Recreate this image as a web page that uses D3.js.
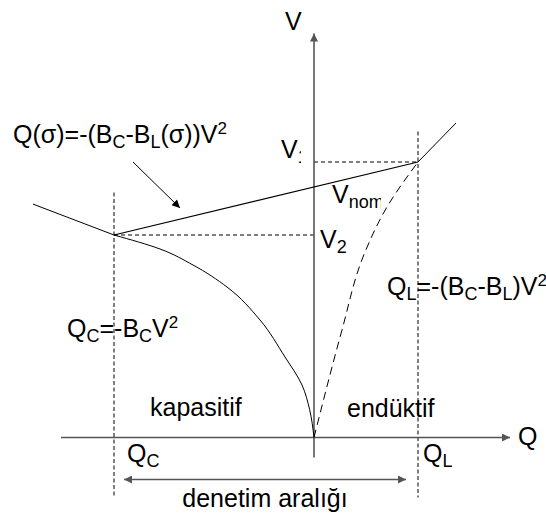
<!DOCTYPE html>
<html>
<head>
<meta charset="utf-8">
<script src="https://cdn.jsdelivr.net/npm/d3@7"></script>
<style>
  html, body { margin: 0; padding: 0; background: #fff; }
  svg { display: block; }
  text { font-family: "Liberation Sans", Arial, sans-serif; fill: #000; }
</style>
</head>
<body>
<svg id="chart" width="546" height="518"></svg>
<script>
// Operating characteristic of a TCR / FC static VAR compensator (Q in p.u. of Q_C, V in p.u.)

// Left branch before the capacitive limit
const leftQ = [-1.405, -1.0];
const leftV = [1.167, 1.0125];

// Capacitive limit curve Q_C = -B_C V^2 (sampled points, Q, V)
const capacitiveQ = [-1.0, -0.77, -0.605, -0.435, -0.27, -0.145, -0.06, -0.022, 0];
const capacitiveV = [1.0125, 0.9425, 0.8625, 0.7525, 0.5875, 0.4025, 0.2625, 0.14, 0];

// Inductive limit curve Q_L = -(B_C - B_L) V^2 (dashed)
const inductiveQ = [0, 0.14, 0.245, 0.365, 0.52];
const inductiveV = [0, 0.5375, 0.9025, 1.1525, 1.3775];

// Control characteristic Q(σ) between the two limits, then the inductive branch
const controlQ = [-1.0, 0.52];
const controlV = [1.0125, 1.3775];
const upperQ = [0.52, 0.71];
const upperV = [1.3775, 1.5725];

// Limits and reference voltages
const limitQ = { QC: -1.0, QL: 0.52 };
const limitV = { V2: 1.0125, V1: 1.3775 };

const svg = d3.select("#chart");
const x = d3.scaleLinear().domain([-1.5, 1.0]).range([14, 514]);
const y = d3.scaleLinear().domain([0, 2.1875]).range([437.5, 0]);

const defs = svg.append("defs");
function arrowMarker(id, color, w, h) {
  defs.append("marker")
    .attr("id", id)
    .attr("viewBox", "0 0 10 10")
    .attr("refX", 10).attr("refY", 5)
    .attr("markerWidth", w).attr("markerHeight", h)
    .attr("markerUnits", "userSpaceOnUse")
    .attr("orient", "auto-start-reverse")
    .append("path").attr("d", "M0,0 L10,5 L0,10 Z").attr("fill", color);
}
arrowMarker("axisArrow", "#555", 14, 8);
arrowMarker("blackArrow", "#000", 14, 8);

const line = d3.line().x(d => x(d[0])).y(d => y(d[1]));
const zip = (a, b) => a.map((v, i) => [v, b[i]]);

// Dashed limit verticals
const dashV = "4,2.5";
svg.append("path")
  .attr("d", line([[limitQ.QC, 1.225], [limitQ.QC, -0.3]]))
  .attr("stroke", "#000").attr("stroke-width", 1).attr("stroke-dasharray", dashV).attr("fill", "none");
svg.append("path")
  .attr("d", line([[limitQ.QL, 1.53], [limitQ.QL, -0.3]]))
  .attr("stroke", "#000").attr("stroke-width", 1).attr("stroke-dasharray", dashV).attr("fill", "none");

// Dashed horizontals to the V axis
svg.append("path")
  .attr("d", line([[limitQ.QC, limitV.V2], [0, limitV.V2]]))
  .attr("stroke", "#000").attr("stroke-width", 1).attr("stroke-dasharray", "4,3").attr("fill", "none");
svg.append("path")
  .attr("d", line([[0, limitV.V1], [limitQ.QL, limitV.V1]]))
  .attr("stroke", "#000").attr("stroke-width", 1).attr("stroke-dasharray", "4,3").attr("fill", "none");

// Axes
svg.append("path")
  .attr("d", line([[-1.265, 0], [0.98, 0]]))
  .attr("stroke", "#555").attr("stroke-width", 1.6).attr("fill", "none")
  .attr("marker-end", "url(#axisArrow)");
svg.append("path")
  .attr("d", line([[0, -0.1], [0, 2.02]]))
  .attr("stroke", "#555").attr("stroke-width", 1.6).attr("fill", "none")
  .attr("marker-end", "url(#axisArrow)");

// Left branch and capacitive curve (solid)
svg.append("path").attr("d", line(zip(leftQ, leftV)))
  .attr("stroke", "#000").attr("stroke-width", 1).attr("fill", "none");
svg.append("path")
  .attr("d", d3.line().x(d => x(d[0])).y(d => y(d[1])).curve(d3.curveMonotoneY)(zip(capacitiveQ, capacitiveV)))
  .attr("stroke", "#000").attr("stroke-width", 1).attr("fill", "none");

// Inductive curve (dashed)
svg.append("path")
  .attr("d", d3.line().x(d => x(d[0])).y(d => y(d[1])).curve(d3.curveMonotoneY)(zip(inductiveQ, inductiveV)))
  .attr("stroke", "#000").attr("stroke-width", 1).attr("stroke-dasharray", "8,5").attr("fill", "none");

// Control line and upper branch
svg.append("path").attr("d", line(zip(controlQ, controlV)))
  .attr("stroke", "#000").attr("stroke-width", 1.2).attr("fill", "none");
svg.append("path").attr("d", line(zip(upperQ, upperV)))
  .attr("stroke", "#000").attr("stroke-width", 1).attr("fill", "none");

// Pointer to the control line
svg.append("path").attr("d", line([[-0.905, 1.3775], [-0.67, 1.1475]]))
  .attr("stroke", "#000").attr("stroke-width", 1).attr("fill", "none")
  .attr("marker-end", "url(#blackArrow)");

// Control range double arrow
svg.append("path").attr("d", line([[-0.95, -0.21], [0.46, -0.21]]))
  .attr("stroke", "#555").attr("stroke-width", 1.6).attr("fill", "none")
  .attr("marker-start", "url(#axisArrow)")
  .attr("marker-end", "url(#axisArrow)");

// Rich text helper: segments [text, "n" | "sub" | "sup"]
const FS = 25;
function richText(px, py, segs, opts = {}) {
  const t = svg.append("text")
    .attr("x", px).attr("y", py)
    .attr("font-size", FS)
    .attr("text-anchor", opts.anchor || "start");
  if (opts.clip) t.attr("clip-path", `url(#${opts.clip})`);
  segs.forEach(([s, k]) => {
    const ts = t.append("tspan").text(s);
    if (k === "sub") ts.attr("font-size", 18).attr("baseline-shift", "-5");
    else if (k === "sup") ts.attr("font-size", 17).attr("baseline-shift", "9");
  });
  return t;
}
function clipRect(id, x0, y0, w, h) {
  defs.append("clipPath").attr("id", id)
    .append("rect").attr("x", x0).attr("y", y0).attr("width", w).attr("height", h);
}

richText(13, 143, [["Q(σ)=-(B", "n"], ["C", "sub"], ["-B", "n"], ["L", "sub"], ["(σ))V", "n"], ["2", "sup"]]);
richText(67, 337, [["Q", "n"], ["C", "sub"], ["=-B", "n"], ["C", "sub"], ["V", "n"], ["2", "sup"]]);
richText(387, 295, [["Q", "n"], ["L", "sub"], ["=-(B", "n"], ["C", "sub"], ["-B", "n"], ["L", "sub"], [")V", "n"], ["2", "sup"]]);

richText(285, 30, [["V", "n"]]);
clipRect("clipV1", 270, 120, 31, 50);
richText(281, 158, [["V", "n"], ["1", "sub"]], { clip: "clipV1" });
clipRect("clipVnom", 320, 175, 61, 45);
richText(332, 203, [["V", "n"], ["nom", "sub"]], { clip: "clipVnom" });
richText(320, 248, [["V", "n"], ["2", "sub"]]);

richText(518, 445, [["Q", "n"]]);
richText(127, 462, [["Q", "n"], ["C", "sub"]]);
richText(423, 462, [["Q", "n"], ["L", "sub"]]);

richText(150, 416, [["kapasitif", "n"]]);
richText(347, 417, [["endüktif", "n"]]);
richText(265, 507, [["denetim aralığı", "n"]], { anchor: "middle" });
</script>
</body>
</html>
